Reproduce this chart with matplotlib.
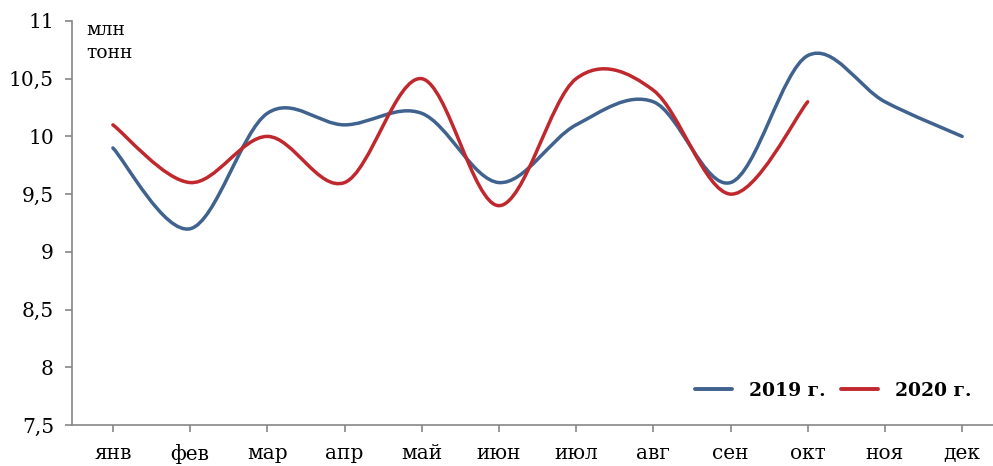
import numpy as np
import matplotlib.pyplot as plt
from matplotlib.path import Path
from matplotlib.patches import PathPatch
from matplotlib.lines import Line2D

months = ['янв', 'фев', 'мар', 'апр', 'май', 'июн', 'июл', 'авг', 'сен', 'окт', 'ноя', 'дек']
y2019 = [9.9, 9.2, 10.2, 10.1, 10.2, 9.6, 10.1, 10.3, 9.6, 10.7, 10.3, 10.0]
y2020 = [10.1, 9.6, 10.0, 9.6, 10.5, 9.4, 10.5, 10.4, 9.5, 10.3]
yticks = [7.5, 8, 8.5, 9, 9.5, 10, 10.5, 11]

c2019 = '#3f628e'
c2020 = '#c0282d'
grey = '#868686'

plt.rcParams['font.family'] = ['DejaVu Serif']


def smooth_path(xs, ys):
    # excel-like smoothed line: cubic bezier segments, catmull-rom style handles
    xs = np.asarray(xs, float)
    ys = np.asarray(ys, float)
    n = len(xs)
    verts = [(xs[0], ys[0])]
    codes = [Path.MOVETO]
    for i in range(n - 1):
        p0 = (xs[max(i - 1, 0)], ys[max(i - 1, 0)])
        p1 = (xs[i], ys[i])
        p2 = (xs[i + 1], ys[i + 1])
        p3 = (xs[min(i + 2, n - 1)], ys[min(i + 2, n - 1)])
        c1 = (p1[0] + (p2[0] - p0[0]) / 6, p1[1] + (p2[1] - p0[1]) / 6)
        c2 = (p2[0] - (p3[0] - p1[0]) / 6, p2[1] - (p3[1] - p1[1]) / 6)
        verts += [c1, c2, p2]
        codes += [Path.CURVE4] * 3
    return Path(verts, codes)


fig = plt.figure(figsize=(9.93, 4.66), dpi=100)
ax = fig.add_axes([0.0725, 0.088, 0.9275, 0.867])

for ys, col in [(y2019, c2019), (y2020, c2020)]:
    xs = np.arange(len(ys))
    ax.add_patch(PathPatch(smooth_path(xs, ys), facecolor='none', edgecolor=col,
                           lw=2.5, capstyle='round', joinstyle='round'))

ax.set_xlim(-0.53, 11.4)
ax.set_ylim(7.5, 11)
ax.set_xticks(np.arange(len(months)))
ax.set_xticklabels(months)
ax.set_yticks(yticks)
ax.set_yticklabels([('%g' % v).replace('.', ',') for v in yticks])

for s in ['top', 'right']:
    ax.spines[s].set_visible(False)
for s in ['left', 'bottom']:
    ax.spines[s].set_color(grey)
    ax.spines[s].set_linewidth(1.2)
ax.tick_params(axis='both', colors=grey, length=5, width=1.2, labelsize=14.5,
               labelcolor='black')
ax.tick_params(axis='y', pad=8)
ax.tick_params(axis='x', pad=9)

ax.text(0.015, 1.0, 'млн\nтонн', transform=ax.transAxes, fontsize=13.5,
        va='top', ha='left', linespacing=1.35)

handles = [Line2D([], [], color=c2019, lw=2.8, solid_capstyle='round'),
           Line2D([], [], color=c2020, lw=2.8, solid_capstyle='round')]
ax.legend(handles, ['2019 г.', '2020 г.'], loc='lower right', ncol=2,
          bbox_to_anchor=(0.995, 0.02), frameon=False,
          prop={'weight': 'bold', 'size': 13.5}, handlelength=2.0,
          columnspacing=0.8, handletextpad=0.9)

fig.savefig('out.png', dpi=100)
